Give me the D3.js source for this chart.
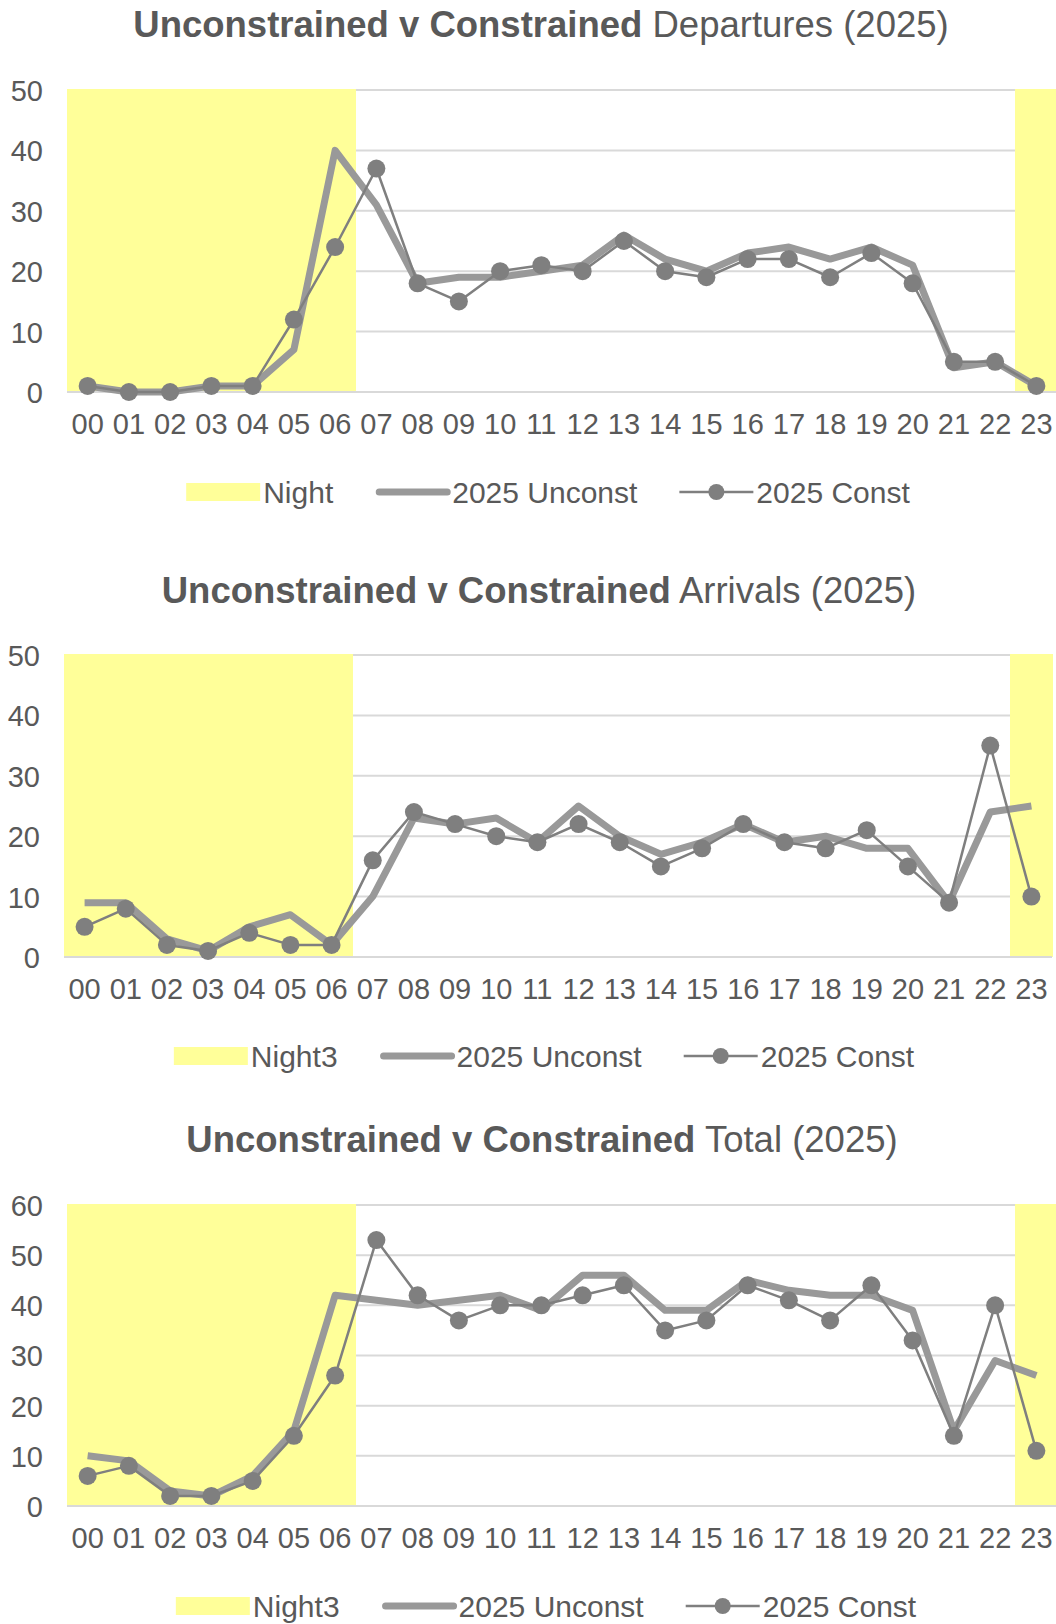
<!DOCTYPE html>
<html><head><meta charset="utf-8">
<script src="https://cdn.jsdelivr.net/npm/d3@7"></script>
<style>
body{margin:0;background:#fff}
svg{display:block}
text{font-family:"Liberation Sans",Arial,sans-serif;fill:#595959}
</style>
</head><body>
<svg id="c" width="1056" height="1624"></svg>
<script>
const hours = ["00","01","02","03","04","05","06","07","08","09","10","11","12","13","14","15","16","17","18","19","20","21","22","23"];
const nightHours = ["00","01","02","03","04","05","06","23"];

const depUnconst = [1,0,0,1,1,7,40,31,18,19,19,20,21,26,22,20,23,24,22,24,21,4,5,1];
const depConst   = [1,0,0,1,1,12,24,37,18,15,20,21,20,25,20,19,22,22,19,23,18,5,5,1];

const arrUnconst = [9,9,3,1,5,7,2,10,23,22,23,19,25,20,17,19,22,19,20,18,18,9,24,25];
const arrConst   = [5,8,2,1,4,2,2,16,24,22,20,19,22,19,15,18,22,19,18,21,15,9,35,10];

const totUnconst = [10,9,3,2,6,15,42,41,40,41,42,39,46,46,39,39,45,43,42,42,39,15,29,26];
const totConst   = [6,8,2,2,5,14,26,53,42,37,40,40,42,44,35,37,44,41,37,44,33,14,40,11];

const titleBold = "Unconstrained v Constrained";
const titleRest = ["Departures (2025)","Arrivals (2025)","Total (2025)"];
const nightLabels = ["Night","Night3","Night3"];
const seriesLabels = ["2025 Unconst","2025 Const"];
const yMax = [50,50,60];

const charts = [
  {title:titleRest[0], night:nightLabels[0], unc:depUnconst, con:depConst, max:yMax[0],
   left:67, right:1057, top:90, bottom:392, titleX:541, titleY:37, yLabX:43, legY:492, legX:548},
  {title:titleRest[1], night:nightLabels[1], unc:arrUnconst, con:arrConst, max:yMax[1],
   left:64, right:1052, top:655, bottom:957, titleX:539, titleY:603, yLabX:40, legY:1056, legX:544},
  {title:titleRest[2], night:nightLabels[2], unc:totUnconst, con:totConst, max:yMax[2],
   left:67, right:1057, top:1205, bottom:1506, titleX:542, titleY:1152, yLabX:43, legY:1606, legX:546}
];

const YELLOW = "#ffff99", GRID = "#d9d9d9", UNC = "#999999", CON = "#7f7f7f";
const svg = d3.select("#c");

charts.forEach(c => {
  const g = svg.append("g");
  const x = d3.scaleBand().domain(hours).range([c.left, c.right]).padding(0);
  const y = d3.scaleLinear().domain([0, c.max]).range([c.bottom, c.top]);
  const bw = x.bandwidth();
  const ticks = d3.range(0, c.max + 1, 10);

  // title
  const t = g.append("text").attr("x", c.titleX).attr("y", c.titleY)
    .attr("text-anchor","middle").style("font-size","36.5px");
  t.append("tspan").attr("font-weight","bold").text(titleBold);
  t.append("tspan").text(" " + c.title);

  // gridlines
  g.selectAll(".grid").data(ticks.filter(v => v > 0)).join("line")
    .attr("x1", c.left).attr("x2", c.right)
    .attr("y1", d => y(d)).attr("y2", d => y(d))
    .attr("stroke", GRID).attr("stroke-width", 2);

  // night bands
  g.selectAll(".night").data(nightHours).join("rect")
    .attr("x", d => x(d) - 0.5).attr("width", bw + 1)
    .attr("y", y(c.max) - 1).attr("height", y(0) - y(c.max) + 1)
    .attr("fill", YELLOW).attr("shape-rendering","crispEdges");

  // baseline
  g.append("line").attr("x1", c.left).attr("x2", c.right)
    .attr("y1", y(0)).attr("y2", y(0)).attr("stroke", GRID).attr("stroke-width", 2);

  // y axis labels
  const ya = g.append("g").attr("transform", `translate(${c.yLabX},0)`)
    .call(d3.axisLeft(y).tickValues(ticks).tickSize(0).tickPadding(0));
  ya.select(".domain").remove();
  ya.selectAll("text").style("font-size","29px").attr("fill","#595959").attr("dy","0.36em");

  // x axis labels
  const xa = g.append("g").attr("transform", `translate(0,${c.bottom + 21})`)
    .call(d3.axisBottom(x).tickSize(0).tickPadding(0));
  xa.select(".domain").remove();
  xa.selectAll("text").style("font-size","29px").attr("fill","#595959");

  const line = d3.line().x((d,i) => x(hours[i]) + bw/2).y(d => y(d));

  g.append("path").datum(c.unc).attr("d", line)
    .attr("fill","none").attr("stroke", UNC).attr("stroke-width", 7)
    .attr("stroke-linejoin","round");

  g.append("path").datum(c.con).attr("d", line)
    .attr("fill","none").attr("stroke", CON).attr("stroke-width", 2.5)
    .attr("stroke-linejoin","round");

  g.selectAll(".mk").data(c.con).join("circle")
    .attr("cx", (d,i) => x(hours[i]) + bw/2).attr("cy", d => y(d))
    .attr("r", 9).attr("fill", CON);

  // legend
  const lg = g.append("g");
  const items = [
    {type:"rect", label:c.night},
    {type:"thick", label:seriesLabels[0]},
    {type:"marker", label:seriesLabels[1]}
  ];
  let cx = 0;
  const symW = 74, gapT = 3, gapI = 42;
  items.forEach((it, k) => {
    const ig = lg.append("g").attr("transform", `translate(${cx},0)`);
    if (it.type === "rect") {
      ig.append("rect").attr("x",0).attr("y",-9).attr("width",symW).attr("height",18).attr("fill",YELLOW);
    } else if (it.type === "thick") {
      ig.append("line").attr("x1",4).attr("x2",symW-2).attr("y1",0).attr("y2",0)
        .attr("stroke",UNC).attr("stroke-width",7).attr("stroke-linecap","round");
    } else {
      ig.append("line").attr("x1",0).attr("x2",symW).attr("y1",0).attr("y2",0)
        .attr("stroke",CON).attr("stroke-width",2.5);
      ig.append("circle").attr("cx",symW/2).attr("cy",0).attr("r",8).attr("fill",CON);
    }
    const tx = ig.append("text").attr("x", symW + gapT).attr("y",0).attr("dy","0.36em")
      .style("font-size","30px").text(it.label);
    const w = tx.node().getComputedTextLength();
    cx += symW + gapT + w + gapI;
  });
  const total = cx - gapI;
  lg.attr("transform", `translate(${c.legX - total/2},${c.legY})`);
});
</script>
</body></html>
